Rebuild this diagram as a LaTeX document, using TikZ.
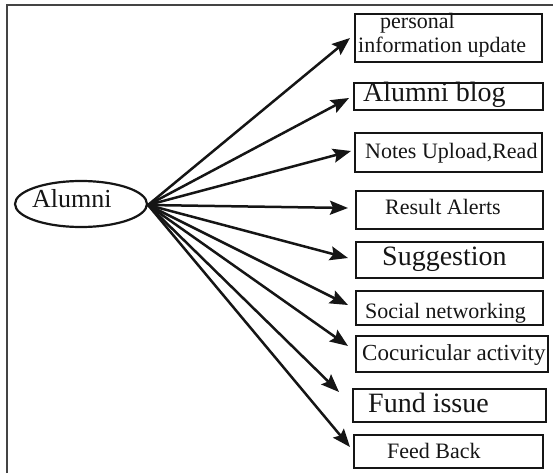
\documentclass[tikz,border=0pt]{standalone}
\usepackage{fontspec}
\setmainfont{Liberation Serif}
\usetikzlibrary{arrows.meta, shapes.geometric}

\definecolor{ink}{HTML}{151515}
\definecolor{framegray}{HTML}{444444}

\tikzset{
  boxnode/.style={draw=ink, line width=2.3pt, rectangle, inner sep=0pt},
  rootnode/.style={draw=ink, line width=2.2pt, ellipse, inner sep=0pt,
                   minimum width=132pt, minimum height=46pt},
  txt/.style={anchor=base west, inner sep=0pt, text=ink},
  bigtxt/.style={txt, font=\fontsize{28}{30}\selectfont},
  smalltxt/.style={txt, font=\fontsize{22}{24}\selectfont},
  link/.style={draw=ink, line width=2.5pt,
               -{Stealth[length=18pt, width=14pt, inset=3pt]}},
}

% helper: box from left/top/right/bottom edges
\newcommand{\optbox}[5]{%
  \node[boxnode, minimum width={(#4)-(#2)}, minimum height={(#5)-(#3)}]
    (#1) at ({((#2)+(#4))/2}, {((#3)+(#5))/2}) {};}

\begin{document}
\begin{tikzpicture}[x=1pt, y=-1pt]
  \useasboundingbox (0,0) rectangle (553,473);

  % outer frame (top and left edges)
  \draw[framegray, line width=2.2pt] (7,473) -- (7,5) -- (553,5);

  % central node
  \node[rootnode] (alumni) at (81,204) {};
  \node[bigtxt, font=\fontsize{26}{28}\selectfont] (alumnitxt) at (32,207) {Alumni};

  % feature boxes
  \optbox{b1}{355}{14}{542}{62}
  \optbox{b2}{354}{83}{543}{110}
  \optbox{b3}{355}{133}{542}{172}
  \optbox{b4}{356}{191}{543}{229}
  \optbox{b5}{356}{242}{543}{278}
  \optbox{b6}{356}{291}{543}{325}
  \optbox{b7}{356}{336}{548}{372}
  \optbox{b8}{353}{389}{546}{422}
  \optbox{b9}{354}{435}{543}{468}

  % box texts
  \node[smalltxt] (t1a) at (380,29) {personal};
  \node[smalltxt] (t1b) at (358,53) {information update};
  \node[bigtxt]   (t2)  at (363,102) {Alumni blog};
  \node[smalltxt] (t3)  at (365,158) {Notes Upload,Read};
  \node[smalltxt] (t4)  at (385,214) {Result Alerts};
  \node[bigtxt]   (t5)  at (382,265) {Suggestion};
  \node[smalltxt] (t6)  at (365,318) {Social networking};
  \node[smalltxt, font=\fontsize{23}{25}\selectfont] (t7) at (362,360) {Cocuricular activity};
  \node[bigtxt]   (t8)  at (368,412) {Fund issue};
  \node[smalltxt] (t9)  at (387,458) {Feed Back};

  % arrow tips
  \coordinate (p1) at (350,38);
  \coordinate (p2) at (349,98);
  \coordinate (p3) at (351,151);
  \coordinate (p4) at (348,208);
  \coordinate (p5) at (348,258);
  \coordinate (p6) at (348,305);
  \coordinate (p7) at (348,346);
  \coordinate (p8) at (339,392);
  \coordinate (p9) at (350,447);
  \coordinate (hub) at (148,205);

  % connectors
  \foreach \k in {1,...,9} {
    \draw[link] (hub) -- (p\k);
  }
\end{tikzpicture}
\end{document}
